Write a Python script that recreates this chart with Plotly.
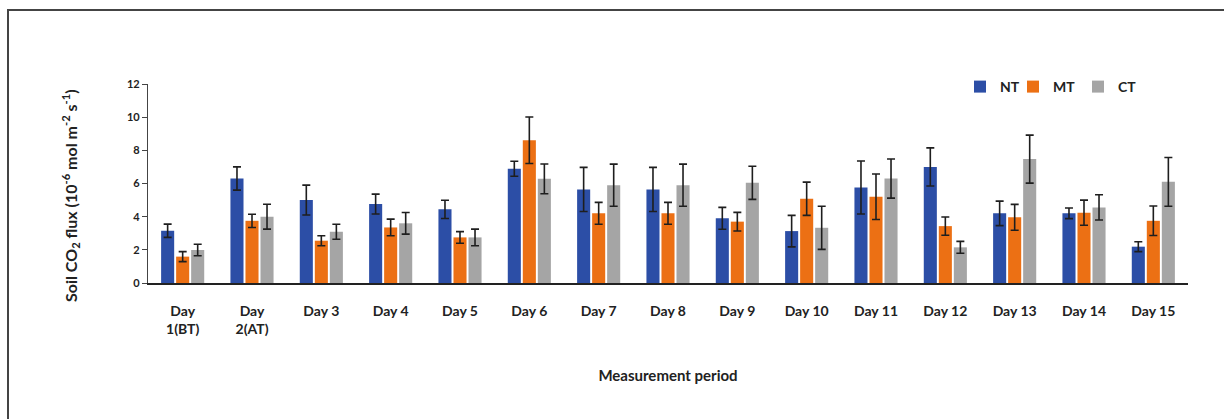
import plotly.graph_objects as go

days = ["Day<br>1(BT)", "Day<br>2(AT)", "Day 3", "Day 4", "Day 5", "Day 6", "Day 7", "Day 8",
        "Day 9", "Day 10", "Day 11", "Day 12", "Day 13", "Day 14", "Day 15"]

nt = [3.15, 6.3, 5.0, 4.76, 4.44, 6.89, 5.64, 5.64, 3.9, 3.13, 5.76, 7.0, 4.2, 4.2, 2.19]
nt_err = [0.4, 0.7, 0.9, 0.6, 0.55, 0.45, 1.33, 1.33, 0.66, 0.95, 1.6, 1.15, 0.74, 0.32, 0.3]

mt = [1.59, 3.75, 2.55, 3.35, 2.75, 8.61, 4.2, 4.2, 3.7, 5.08, 5.2, 3.43, 3.96, 4.24, 3.75]
mt_err = [0.3, 0.4, 0.3, 0.5, 0.35, 1.4, 0.66, 0.66, 0.56, 1.0, 1.37, 0.55, 0.78, 0.76, 0.89]

ct = [1.99, 4.0, 3.09, 3.6, 2.75, 6.28, 5.9, 5.9, 6.04, 3.33, 6.3, 2.15, 7.47, 4.56, 6.1]
ct_err = [0.35, 0.75, 0.45, 0.65, 0.5, 0.9, 1.27, 1.27, 1.0, 1.3, 1.18, 0.36, 1.45, 0.76, 1.47]

series = [("NT", nt, nt_err, "#2C4EA6", "legend"),
          ("MT", mt, mt_err, "#EC7014", "legend2"),
          ("CT", ct, ct_err, "#A5A5A5", "legend3")]

FONT = "Lato, Arial, sans-serif"

fig = go.Figure()
for name, vals, errs, col, lg in series:
    fig.add_trace(go.Bar(
        x=days, y=vals, name=name, legend=lg, marker=dict(color=col, line=dict(width=0)),
        error_y=dict(type="data", array=errs, visible=True, color="#1e1e1e", thickness=1.6, width=4),
    ))

W, H = 1224, 419
L, R, T, B = 148, 36, 84, 136
pw, ph = W - L - R, H - T - B

def px(x):
    return (x - L) / pw

def py(y):
    return (H - B - y) / ph

def leg(xpix):
    return dict(orientation="h", x=px(xpix), y=py(71), xanchor="left", yanchor="top",
                font=dict(size=14, family=FONT, color="#222222", weight="bold"),
                itemwidth=30, bgcolor="rgba(0,0,0,0)")

fig.update_layout(
    width=W, height=H,
    margin=dict(l=L, r=R, t=T, b=B),
    paper_bgcolor="white", plot_bgcolor="white",
    barmode="group", bargap=0.35, bargroupgap=0.13,
    font=dict(family=FONT, color="#222222", size=13),
    showlegend=True,
    legend=leg(960), legend2=leg(1013), legend3=leg(1078),
    xaxis=dict(showline=True, linecolor="#222222", linewidth=1.5, ticks="",
               ticklabelstandoff=14,
               tickfont=dict(size=14, family=FONT, color="#222222", weight="bold"),
               title=dict(text="Measurement period", font=dict(size=15, family=FONT, color="#222222", weight="bold"),
                          standoff=35)),
    yaxis=dict(range=[0, 12], dtick=2, showgrid=False, zeroline=False,
               showline=True, linecolor="#444444", linewidth=1.2, ticks="outside", ticklen=5,
               tickcolor="#444444",
               tickfont=dict(size=11, family=FONT, color="#222222", weight="bold")),
    annotations=[dict(text="Soil CO<sub>2</sub> flux (10<sup>-6</sup> mol m<sup>-2</sup> s<sup>-1</sup>)",
                      xref="paper", yref="paper", x=px(70), y=py(196), xanchor="center", yanchor="middle",
                      textangle=-90, showarrow=False,
                      font=dict(size=16, family=FONT, color="#222222", weight="bold"))],
    shapes=[dict(type="rect", xref="paper", yref="paper",
                 x0=px(8), x1=px(1240), y0=py(440), y1=py(10),
                 line=dict(color="#444444", width=2), layer="below")],
)

fig.write_html("out.html")
